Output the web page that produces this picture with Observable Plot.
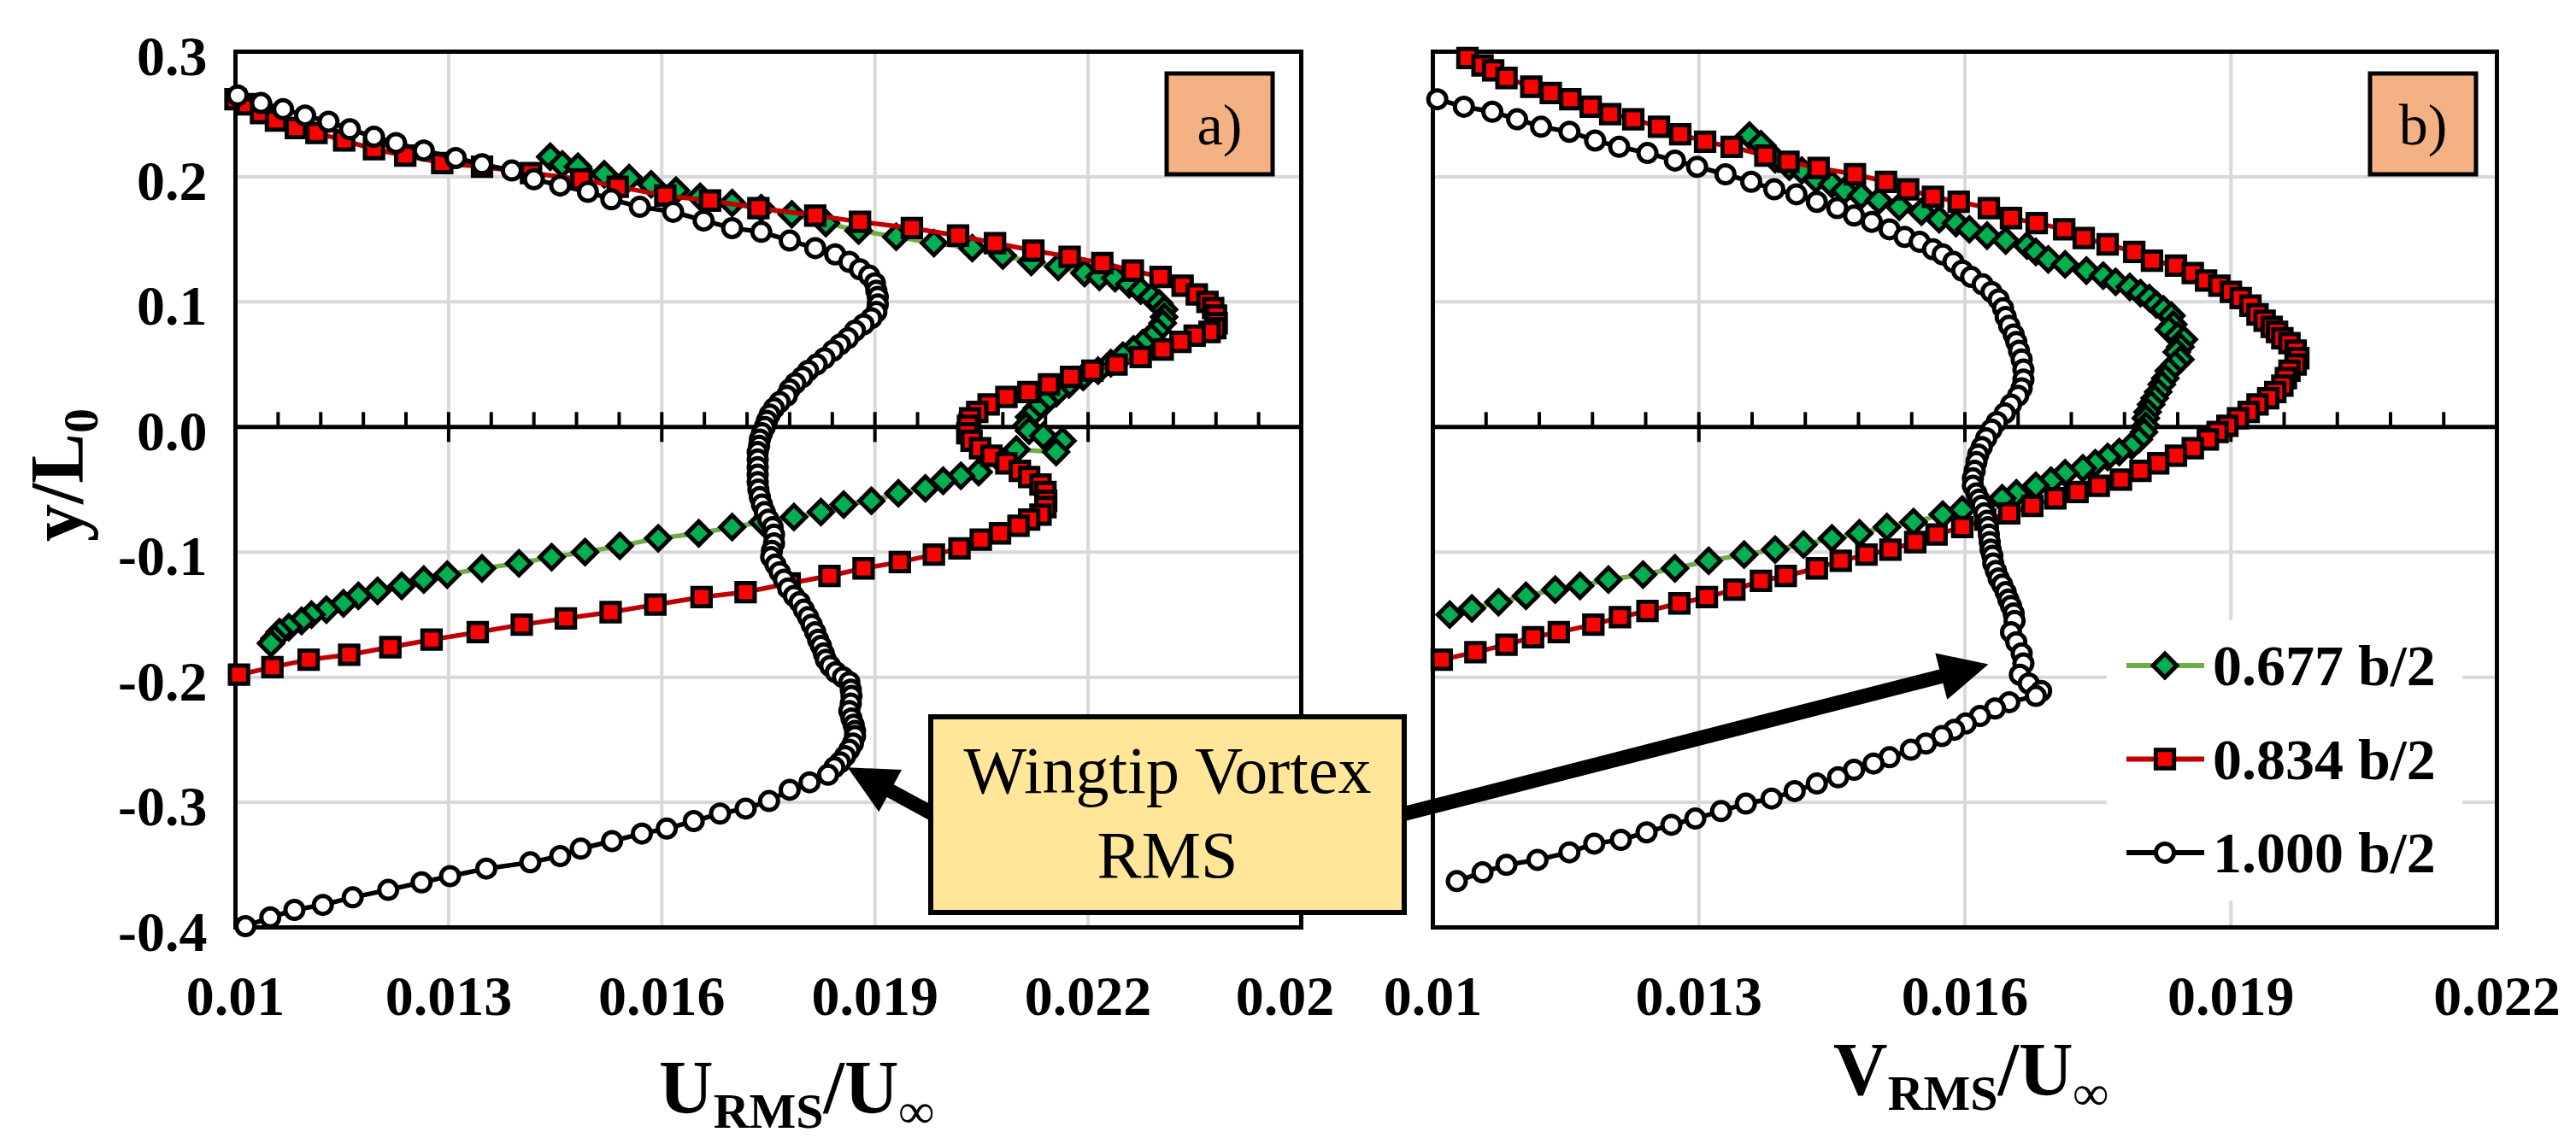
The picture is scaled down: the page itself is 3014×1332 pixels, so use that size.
<!DOCTYPE html>
<html>
<head>
<meta charset="utf-8">
<script src="https://cdn.jsdelivr.net/npm/d3@7"></script>
<script src="https://cdn.jsdelivr.net/npm/@observablehq/plot@0.6"></script>
<style>
  html, body { margin: 0; padding: 0; background: #fff; }
  #chart { position: relative; width: 3014px; height: 1332px; overflow: hidden; background: #fff; }
  #chart > svg { position: absolute; top: 0; }
</style>
</head>
<body>
<div id="chart"></div>
<script>
// y/L0 profiles of RMS velocity, panel a) U_RMS/U_inf and panel b) V_RMS/U_inf
const seriesLabels = ["0.677 b/2", "0.834 b/2", "1.000 b/2"];
const yTicks = [-0.4, -0.3, -0.2, -0.1, 0, 0.1, 0.2, 0.3];
const uTicks = [0.010, 0.013, 0.016, 0.019, 0.022, 0.025];
const vTicks = [0.010, 0.013, 0.016, 0.019, 0.022];

// [value, y/L0]
const u677 = [
  [0.01443,0.216],[0.01460,0.210],[0.01482,0.208],[0.01519,0.202],[0.01554,0.199],[0.01585,0.194],
  [0.01620,0.189],[0.01654,0.184],[0.01699,0.179],[0.01740,0.175],[0.01783,0.170],[0.01831,0.163],
  [0.01877,0.157],[0.01930,0.152],[0.01983,0.147],[0.02037,0.143],[0.02080,0.137],[0.02120,0.132],
  [0.02158,0.128],[0.02195,0.123],[0.02216,0.120],[0.02238,0.119],[0.02258,0.114],[0.02274,0.109],
  [0.02289,0.104],[0.02300,0.099],[0.02307,0.094],[0.02307,0.088],[0.02305,0.083],[0.02297,0.077],
  [0.02289,0.072],[0.02277,0.067],[0.02264,0.062],[0.02249,0.057],[0.02232,0.051],[0.02214,0.045],
  [0.02193,0.040],[0.02173,0.034],[0.02155,0.027],[0.02140,0.020],[0.02128,0.015],[0.02117,0.008],
  [0.02113,0.001],[0.02117,-0.003],[0.02137,-0.007],[0.02164,-0.011],[0.02155,-0.020],[0.02099,-0.018],
  [0.02076,-0.026],[0.02046,-0.036],[0.02021,-0.039],[0.01996,-0.043],[0.01971,-0.049],[0.01933,-0.053],
  [0.01895,-0.059],[0.01856,-0.062],[0.01824,-0.068],[0.01786,-0.072],[0.01742,-0.076],[0.01699,-0.080],
  [0.01652,-0.085],[0.01595,-0.089],[0.01541,-0.095],[0.01492,-0.100],[0.01445,-0.104],[0.01399,-0.109],
  [0.01347,-0.113],[0.01298,-0.118],[0.01265,-0.122],[0.01234,-0.127],[0.01200,-0.131],[0.01173,-0.135],
  [0.01152,-0.141],[0.01128,-0.146],[0.01107,-0.150],[0.01093,-0.155],[0.01075,-0.160],[0.01062,-0.164],
  [0.01055,-0.169],[0.01050,-0.173]
];
const u834 = [
  [0.01000,0.262],[0.01016,0.258],[0.01036,0.251],[0.01057,0.245],[0.01085,0.239],[0.01114,0.235],
  [0.01153,0.229],[0.01195,0.222],[0.01239,0.217],[0.01291,0.211],[0.01347,0.208],[0.01416,0.203],
  [0.01487,0.198],[0.01538,0.192],[0.01605,0.185],[0.01668,0.181],[0.01736,0.175],[0.01816,0.169],
  [0.01879,0.164],[0.01952,0.159],[0.02017,0.153],[0.02069,0.147],[0.02123,0.141],[0.02174,0.136],
  [0.02220,0.131],[0.02263,0.125],[0.02302,0.120],[0.02333,0.113],[0.02353,0.106],[0.02368,0.100],
  [0.02376,0.095],[0.02380,0.089],[0.02381,0.083],[0.02379,0.079],[0.02371,0.076],[0.02350,0.073],
  [0.02330,0.068],[0.02305,0.062],[0.02274,0.056],[0.02240,0.050],[0.02206,0.045],[0.02176,0.040],
  [0.02145,0.034],[0.02116,0.028],[0.02085,0.024],[0.02060,0.018],[0.02044,0.012],[0.02034,0.007],
  [0.02031,0.001],[0.02030,-0.005],[0.02036,-0.011],[0.02048,-0.017],[0.02064,-0.023],[0.02085,-0.029],
  [0.02104,-0.035],[0.02117,-0.040],[0.02133,-0.046],[0.02140,-0.052],[0.02141,-0.059],[0.02140,-0.064],
  [0.02133,-0.070],[0.02117,-0.074],[0.02102,-0.079],[0.02076,-0.085],[0.02049,-0.090],[0.02019,-0.097],
  [0.01983,-0.102],[0.01935,-0.108],[0.01884,-0.113],[0.01836,-0.119],[0.01780,-0.125],[0.01718,-0.132],
  [0.01656,-0.136],[0.01591,-0.142],[0.01528,-0.148],[0.01465,-0.153],[0.01403,-0.158],[0.01341,-0.164],
  [0.01276,-0.170],[0.01218,-0.176],[0.01160,-0.182],[0.01103,-0.186],[0.01052,-0.192],[0.01005,-0.198]
];
const u1000 = [
  [0.01003,0.265],[0.01036,0.259],[0.01067,0.254],[0.01098,0.249],[0.01131,0.244],[0.01161,0.238],
  [0.01195,0.232],[0.01226,0.227],[0.01265,0.221],[0.01310,0.215],[0.01347,0.210],[0.01389,0.205],
  [0.01420,0.198],[0.01457,0.193],[0.01496,0.188],[0.01529,0.182],[0.01569,0.176],[0.01616,0.172],
  [0.01659,0.165],[0.01699,0.159],[0.01740,0.156],[0.01780,0.149],[0.01816,0.143],[0.01844,0.138],
  [0.01864,0.132],[0.01879,0.126],[0.01892,0.121],[0.01900,0.115],[0.01902,0.109],[0.01904,0.104],
  [0.01904,0.098],[0.01902,0.092],[0.01895,0.087],[0.01884,0.082],[0.01872,0.077],[0.01862,0.071],
  [0.01851,0.066],[0.01841,0.061],[0.01829,0.055],[0.01818,0.050],[0.01806,0.045],[0.01798,0.040],
  [0.01788,0.035],[0.01780,0.030],[0.01776,0.025],[0.01766,0.020],[0.01758,0.015],[0.01752,0.010],
  [0.01748,0.005],[0.01745,0.000],[0.01741,-0.005],[0.01738,-0.010],[0.01737,-0.015],[0.01735,-0.020],
  [0.01735,-0.026],[0.01735,-0.032],[0.01735,-0.038],[0.01735,-0.044],[0.01736,-0.050],[0.01738,-0.056],
  [0.01741,-0.062],[0.01745,-0.068],[0.01750,-0.074],[0.01756,-0.080],[0.01758,-0.086],[0.01758,-0.093],
  [0.01755,-0.099],[0.01754,-0.104],[0.01760,-0.110],[0.01766,-0.116],[0.01772,-0.122],[0.01778,-0.129],
  [0.01786,-0.135],[0.01794,-0.140],[0.01800,-0.146],[0.01806,-0.152],[0.01811,-0.158],[0.01816,-0.164],
  [0.01820,-0.170],[0.01824,-0.175],[0.01828,-0.181],[0.01831,-0.186],[0.01837,-0.191],[0.01845,-0.196],
  [0.01855,-0.200],[0.01864,-0.204],[0.01866,-0.210],[0.01867,-0.215],[0.01866,-0.221],[0.01864,-0.227],
  [0.01867,-0.233],[0.01870,-0.238],[0.01872,-0.243],[0.01872,-0.247],[0.01869,-0.253],[0.01864,-0.258],
  [0.01858,-0.263],[0.01851,-0.268],[0.01843,-0.272],[0.01834,-0.278],[0.01808,-0.284],[0.01780,-0.290],
  [0.01751,-0.299],[0.01718,-0.305],[0.01682,-0.309],[0.01645,-0.315],[0.01607,-0.321],[0.01572,-0.325],
  [0.01530,-0.331],[0.01486,-0.337],[0.01457,-0.343],[0.01415,-0.348],[0.01353,-0.353],[0.01302,-0.359],
  [0.01262,-0.364],[0.01215,-0.370],[0.01165,-0.376],[0.01123,-0.382],[0.01083,-0.386],[0.01049,-0.392],
  [0.01014,-0.399]
];
const v677 = [
  [0.01357,0.233],[0.01370,0.226],[0.01386,0.214],[0.01402,0.208],[0.01416,0.205],[0.01432,0.198],
  [0.01450,0.194],[0.01464,0.189],[0.01483,0.185],[0.01503,0.181],[0.01526,0.176],[0.01551,0.172],
  [0.01571,0.166],[0.01590,0.163],[0.01605,0.158],[0.01625,0.153],[0.01646,0.149],[0.01670,0.145],
  [0.01680,0.140],[0.01694,0.134],[0.01713,0.130],[0.01737,0.125],[0.01756,0.121],[0.01770,0.116],
  [0.01786,0.112],[0.01798,0.107],[0.01808,0.103],[0.01816,0.098],[0.01824,0.094],[0.01833,0.089],
  [0.01835,0.082],[0.01830,0.078],[0.01840,0.073],[0.01847,0.070],[0.01843,0.064],[0.01839,0.060],
  [0.01843,0.054],[0.01837,0.050],[0.01830,0.045],[0.01826,0.039],[0.01822,0.034],[0.01818,0.028],
  [0.01814,0.023],[0.01810,0.018],[0.01806,0.012],[0.01804,0.007],[0.01804,0.001],[0.01802,-0.004],
  [0.01796,-0.010],[0.01788,-0.015],[0.01774,-0.020],[0.01761,-0.024],[0.01747,-0.029],[0.01733,-0.033],
  [0.01713,-0.037],[0.01697,-0.043],[0.01680,-0.047],[0.01658,-0.053],[0.01642,-0.057],[0.01620,-0.062],
  [0.01597,-0.066],[0.01575,-0.070],[0.01542,-0.076],[0.01512,-0.080],[0.01481,-0.085],[0.01450,-0.089],
  [0.01418,-0.094],[0.01386,-0.098],[0.01351,-0.102],[0.01311,-0.107],[0.01273,-0.113],[0.01237,-0.118],
  [0.01198,-0.122],[0.01166,-0.127],[0.01138,-0.130],[0.01105,-0.135],[0.01074,-0.140],[0.01044,-0.145],
  [0.01019,-0.150]
];
const v834 = [
  [0.01039,0.295],[0.01056,0.289],[0.01068,0.285],[0.01083,0.279],[0.01111,0.272],[0.01133,0.267],
  [0.01155,0.262],[0.01178,0.256],[0.01200,0.250],[0.01226,0.246],[0.01255,0.240],[0.01279,0.234],
  [0.01307,0.228],[0.01337,0.224],[0.01375,0.217],[0.01401,0.212],[0.01435,0.207],[0.01476,0.202],
  [0.01511,0.196],[0.01536,0.190],[0.01564,0.184],[0.01593,0.180],[0.01627,0.175],[0.01652,0.167],
  [0.01681,0.163],[0.01712,0.158],[0.01734,0.151],[0.01761,0.146],[0.01791,0.140],[0.01811,0.133],
  [0.01838,0.129],[0.01857,0.123],[0.01872,0.117],[0.01887,0.113],[0.01900,0.108],[0.01911,0.103],
  [0.01922,0.097],[0.01930,0.090],[0.01938,0.085],[0.01946,0.080],[0.01952,0.076],[0.01958,0.071],
  [0.01966,0.067],[0.01973,0.061],[0.01976,0.055],[0.01973,0.050],[0.01966,0.045],[0.01962,0.039],
  [0.01958,0.033],[0.01950,0.028],[0.01942,0.023],[0.01930,0.018],[0.01920,0.012],[0.01908,0.007],
  [0.01896,0.001],[0.01885,-0.004],[0.01874,-0.010],[0.01857,-0.017],[0.01838,-0.023],[0.01818,-0.029],
  [0.01798,-0.035],[0.01776,-0.042],[0.01751,-0.047],[0.01727,-0.052],[0.01702,-0.057],[0.01676,-0.063],
  [0.01650,-0.069],[0.01623,-0.074],[0.01597,-0.080],[0.01568,-0.086],[0.01544,-0.092],[0.01516,-0.098],
  [0.01489,-0.102],[0.01460,-0.107],[0.01433,-0.113],[0.01398,-0.119],[0.01370,-0.123],[0.01340,-0.130],
  [0.01309,-0.136],[0.01278,-0.141],[0.01242,-0.147],[0.01211,-0.152],[0.01181,-0.158],[0.01142,-0.164],
  [0.01113,-0.168],[0.01083,-0.174],[0.01048,-0.180],[0.01010,-0.186]
];
const v1000 = [
  [0.01005,0.262],[0.01035,0.256],[0.01067,0.252],[0.01095,0.246],[0.01122,0.240],[0.01154,0.236],
  [0.01183,0.229],[0.01210,0.224],[0.01242,0.219],[0.01273,0.213],[0.01298,0.208],[0.01330,0.202],
  [0.01359,0.196],[0.01385,0.190],[0.01410,0.186],[0.01433,0.180],[0.01456,0.175],[0.01475,0.169],
  [0.01495,0.164],[0.01515,0.158],[0.01532,0.152],[0.01549,0.148],[0.01564,0.142],[0.01575,0.138],
  [0.01587,0.132],[0.01597,0.125],[0.01607,0.120],[0.01620,0.114],[0.01630,0.108],[0.01638,0.102],
  [0.01643,0.095],[0.01646,0.088],[0.01650,0.081],[0.01655,0.074],[0.01658,0.068],[0.01661,0.061],
  [0.01664,0.054],[0.01666,0.046],[0.01666,0.038],[0.01664,0.031],[0.01660,0.025],[0.01652,0.018],
  [0.01645,0.011],[0.01636,0.004],[0.01630,-0.002],[0.01624,-0.009],[0.01619,-0.016],[0.01615,-0.022],
  [0.01613,-0.028],[0.01611,-0.035],[0.01609,-0.041],[0.01609,-0.047],[0.01613,-0.053],[0.01616,-0.058],
  [0.01619,-0.063],[0.01622,-0.069],[0.01625,-0.075],[0.01626,-0.080],[0.01627,-0.086],[0.01628,-0.092],
  [0.01629,-0.098],[0.01631,-0.103],[0.01632,-0.109],[0.01635,-0.115],[0.01638,-0.121],[0.01642,-0.126],
  [0.01646,-0.132],[0.01649,-0.138],[0.01652,-0.143],[0.01655,-0.149],[0.01656,-0.155],[0.01652,-0.164],
  [0.01658,-0.172],[0.01664,-0.181],[0.01666,-0.189],[0.01662,-0.198],[0.01672,-0.205],[0.01686,-0.211],
  [0.01680,-0.215],[0.01650,-0.220],[0.01634,-0.225],[0.01617,-0.231],[0.01601,-0.237],[0.01588,-0.242],
  [0.01574,-0.247],[0.01556,-0.253],[0.01539,-0.258],[0.01515,-0.264],[0.01497,-0.269],[0.01475,-0.274],
  [0.01457,-0.280],[0.01433,-0.285],[0.01408,-0.291],[0.01382,-0.297],[0.01353,-0.301],[0.01325,-0.307],
  [0.01296,-0.313],[0.01269,-0.318],[0.01241,-0.324],[0.01212,-0.330],[0.01182,-0.333],[0.01154,-0.340],
  [0.01118,-0.346],[0.01083,-0.350],[0.01056,-0.356],[0.01027,-0.363]
];

const looks = [
  {line: "#70ad47", fill: "#00b050", symbol: d3.symbolDiamond2, r: 12.5},
  {line: "#c00000", fill: "#ff0000", symbol: d3.symbolSquare, r: 12},
  {line: "#000000", fill: "#ffffff", symbol: d3.symbolCircle, r: 10.5}
];
const serif = "'Liberation Serif', 'Times New Roman', serif";
const H = 1332, TOP = 60, BOTTOM = 247;
const fmt = d => String(+d.toFixed(3));

function panel(series, ticks, width, marginLeft, marginRight, showY, cutLast) {
  const lo = ticks[0], hi = ticks[ticks.length - 1];
  const minor = d3.range(0, Math.round((hi - lo) / 0.0006) + 1).map(i => lo + i * 0.0006);
  const marks = [
    Plot.ruleX(ticks.slice(1, -1), {stroke: "#d9d9d9", strokeWidth: 4}),
    Plot.ruleY(yTicks.slice(1, -1).filter(d => d !== 0), {stroke: "#d9d9d9", strokeWidth: 4}),
    Plot.frame({stroke: "#000", strokeWidth: 5}),
    Plot.ruleY([0], {stroke: "#000", strokeWidth: 5}),
    Plot.ruleX(minor, {x: d => d, y1: 0, y2: 0, insetTop: -17, stroke: "#000", strokeWidth: 4}),
    Plot.ruleX(ticks, {x: d => d, y1: 0, y2: 0, insetBottom: -18, stroke: "#000", strokeWidth: 4}),
    Plot.axisX({ticks: cutLast ? ticks.slice(0, -1) : ticks, tickSize: 0, tickPadding: 56, tickFormat: fmt})
  ];
  // last label of panel a) is partly hidden behind panel b) in the original: only "0.02" shows
  if (cutLast) marks.push(Plot.axisX({ticks: [hi], tickSize: 0, tickPadding: 56, dx: -19,
    tickFormat: d => fmt(d).slice(0, 4)}));
  if (showY) marks.push(Plot.axisY({ticks: yTicks, tickSize: 0, tickPadding: 33, dy: 6, tickFormat: d => d.toFixed(1)}));
  series.forEach((rows, i) => {
    const k = looks[i];
    marks.push(Plot.line(rows, {x: d => d[0], y: d => d[1], stroke: k.line, strokeWidth: 5.5}));
    marks.push(Plot.dot(rows, {x: d => d[0], y: d => d[1], symbol: k.symbol, r: k.r,
      fill: k.fill, stroke: "#000", strokeWidth: 5}));
  });
  return Plot.plot({
    width, height: H, marginTop: TOP, marginBottom: BOTTOM, marginLeft, marginRight,
    x: {domain: [lo, hi]},
    y: showY ? {domain: [-0.4, 0.3]} : {domain: [-0.4, 0.3], axis: null},
    style: {fontFamily: serif, fontSize: "66px", fontWeight: "bold", color: "#000", background: "#fff", overflow: "hidden"},
    marks
  });
}

const chart = document.getElementById("chart");
const LEFT_W = 1564;
const pa = panel([u677, u834, u1000], uTicks, LEFT_W, 275, 42, true, true);
const pb = panel([v677, v834, v1000], vTicks, 3014 - LEFT_W, 112, 93, false, false);
pa.style.left = "0px";
pb.style.left = LEFT_W + "px";
chart.appendChild(pa);
chart.appendChild(pb);

// overlay: legend, call-out, panel tags, axis titles
const ov = d3.create("svg").attr("width", 3014).attr("height", H)
  .style("left", "0px").style("pointer-events", "none").style("font-family", serif);

function arrow(g, [x0, y0], [x1, y1]) {
  const a = Math.atan2(y1 - y0, x1 - x0), c = Math.cos(a), s = Math.sin(a);
  const hl = 57, hw = 56;
  const bx = x1 - hl * c, by = y1 - hl * s;
  g.append("line").attr("x1", x0).attr("y1", y0).attr("x2", bx + 2 * c).attr("y2", by + 2 * s)
    .attr("stroke", "#000").attr("stroke-width", 17);
  g.append("path").attr("fill", "#000")
    .attr("d", `M${x1},${y1}L${bx - hw / 2 * s},${by + hw / 2 * c}L${bx + hw / 2 * s},${by - hw / 2 * c}Z`);
}

// legend
const lg = ov.append("g");
lg.append("rect").attr("x", 2465).attr("y", 726).attr("width", 416).attr("height", 328).attr("fill", "#fff");
seriesLabels.forEach((label, i) => {
  const y = 779 + i * 109.5, k = looks[i];
  lg.append("line").attr("x1", 2488).attr("x2", 2579).attr("y1", y).attr("y2", y)
    .attr("stroke", k.line).attr("stroke-width", 6);
  lg.append("path").attr("d", d3.symbol(k.symbol, Math.PI * k.r * k.r)())
    .attr("transform", `translate(2533,${y})`).attr("fill", k.fill).attr("stroke", "#000").attr("stroke-width", 5);
  lg.append("text").attr("x", 2589).attr("y", y + 23).attr("font-size", 68).attr("font-weight", "bold").text(label);
});

// call-out box with arrows into both panels
const xa = pa.scale("x"), ya = pa.scale("y"), xb = pb.scale("x"), yb = pb.scale("y");
const box = {x: 1089, y: 839, w: 554, h: 229};
const midY = box.y + box.h / 2;
arrow(ov, [box.x + 4, midY], [xa.apply(0.01862), ya.apply(-0.2725)]);
arrow(ov, [box.x + box.w - 4, midY], [LEFT_W + xb.apply(0.01627), yb.apply(-0.190)]);
ov.append("rect").attr("x", box.x).attr("y", box.y).attr("width", box.w).attr("height", box.h)
  .attr("fill", "#ffe699").attr("stroke", "#000").attr("stroke-width", 6);
ov.append("text").attr("x", box.x + box.w / 2).attr("y", 928).attr("text-anchor", "middle")
  .attr("font-size", 78).text("Wingtip Vortex");
ov.append("text").attr("x", box.x + box.w / 2).attr("y", 1027).attr("text-anchor", "middle")
  .attr("font-size", 78).text("RMS");

// panel tags
[["a)", 1365], ["b)", 2773]].forEach(([t, x]) => {
  ov.append("rect").attr("x", x).attr("y", 86).attr("width", 124).attr("height", 118)
    .attr("fill", "#f4b183").attr("stroke", "#000").attr("stroke-width", 5);
  ov.append("text").attr("x", x + 62).attr("y", 169).attr("text-anchor", "middle")
    .attr("font-size", 68).text(t);
});

// axis titles
function title(x, y, main, rotate) {
  const t = ov.append("text").attr("text-anchor", "middle").attr("font-weight", "bold").attr("font-size", 88)
    .attr("transform", `translate(${x},${y})${rotate ? " rotate(-90)" : ""}`);
  main.forEach(([s, sub]) => {
    t.append("tspan").attr("font-size", sub ? 58 : 88).attr("dy", sub ? 18 : (sub === false ? -18 : 0)).text(s);
  });
}
title(932, 1302, [["U"], ["RMS", true], ["/U", false], ["\u221e", true]]);
title(2306, 1281, [["V"], ["RMS", true], ["/U", false], ["\u221e", true]]);
title(96, 556, [["y/L"], ["0", true]], true);

chart.appendChild(ov.node());
</script>
</body>
</html>
